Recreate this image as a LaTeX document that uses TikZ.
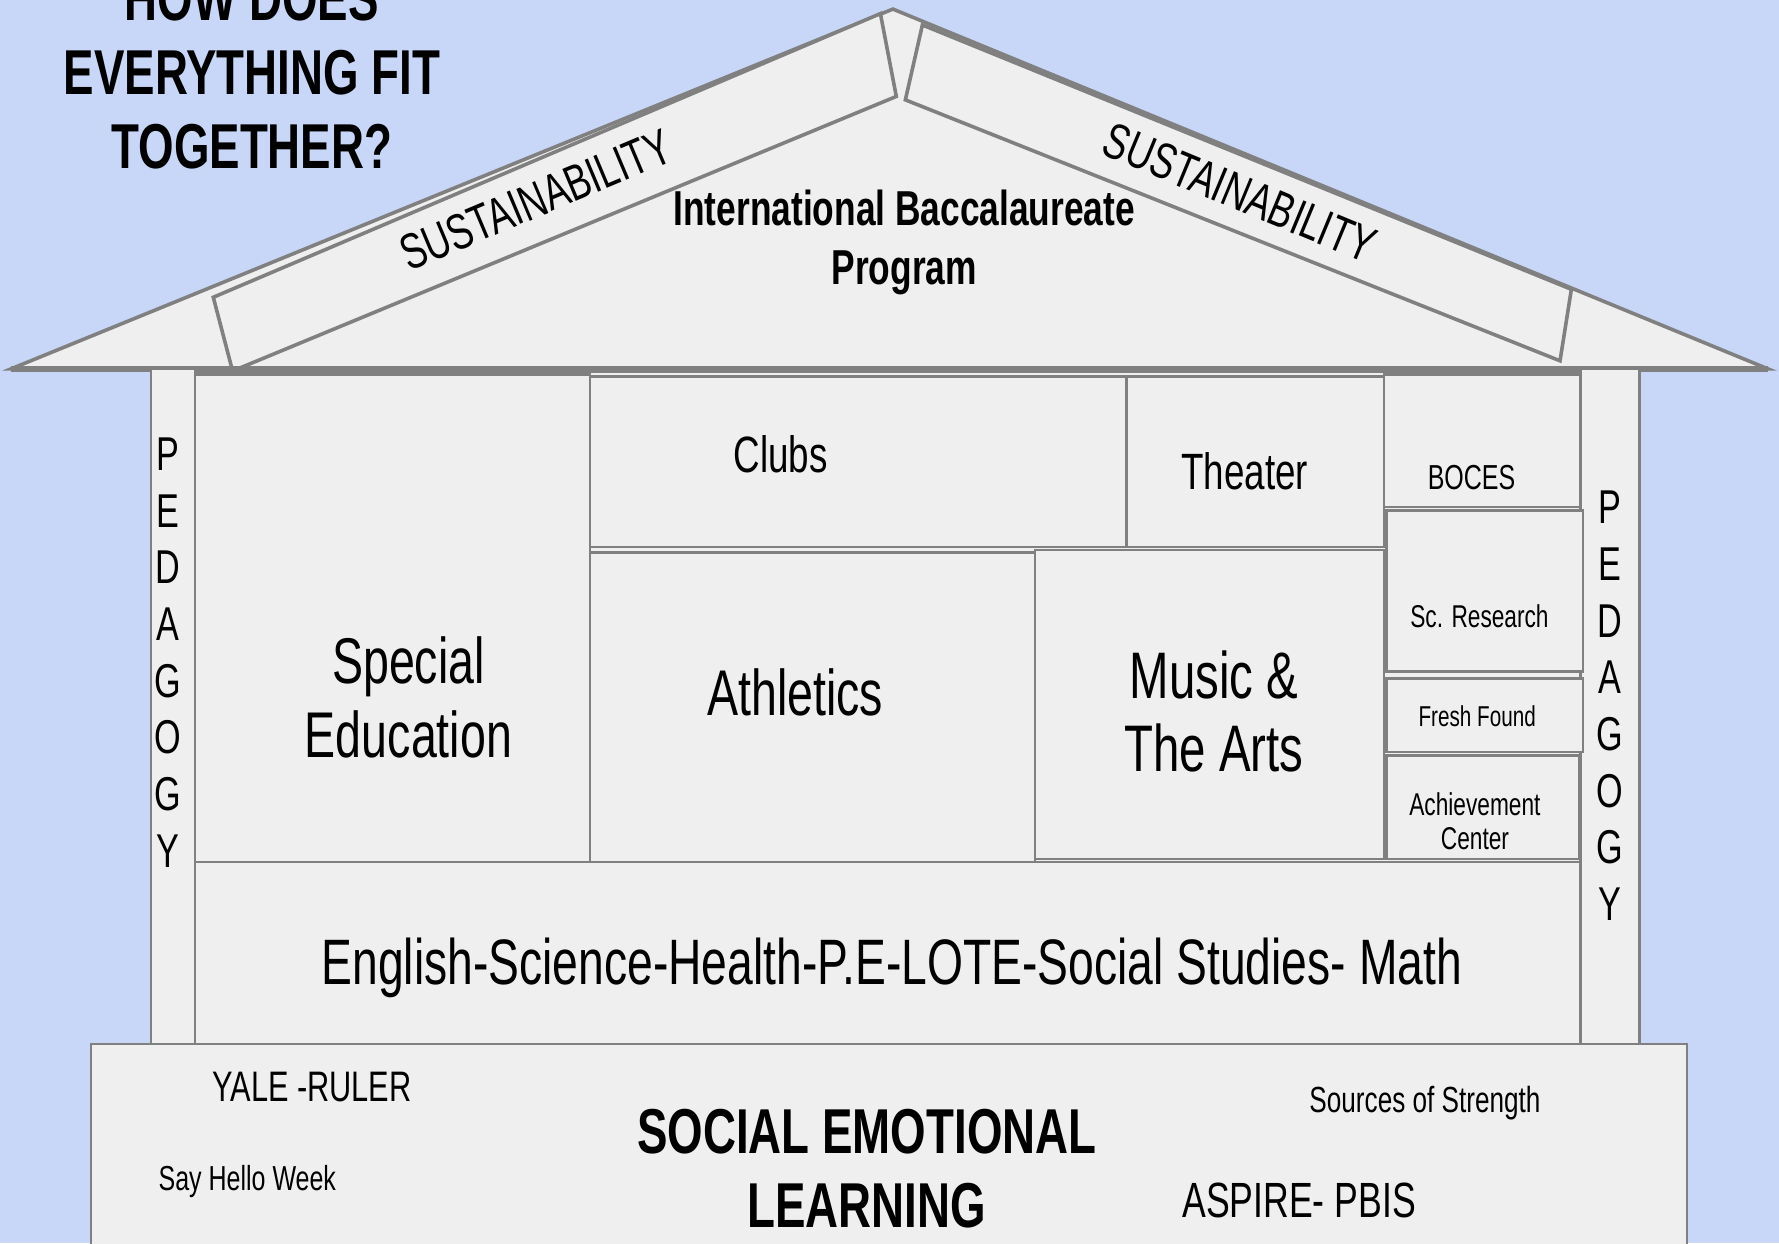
\documentclass[tikz,border=0pt]{standalone}
\usepackage{fontspec}
\setmainfont{Liberation Sans}[FakeStretch=0.72]
\definecolor{skyblue}{RGB}{200,215,247}
\definecolor{roomfill}{RGB}{239,239,239}
\definecolor{roomline}{RGB}{128,128,128}
\newcommand\housefont[2]{\fontsize{#1}{#2}\selectfont}
\newcommand\houseroom[4]{
  \draw[room] (#1,#2) rectangle (#3,#4) ;
}
\newcommand\houseword[4]{
  \node[roomtext, font=\housefont{#3}{#3}] (#1) at #2 {#4} ;
}
\tikzset{
  room/.style={draw=roomline, fill=roomfill, line width=0.6pt},
  roof/.style={room, line width=0.9pt},
  roomtext/.style={inner sep=0pt, align=center, text=black},
}
\begin{document}
\begin{tikzpicture}[x=0.01cm, y=-0.01cm]
    \fill[skyblue] (0,0) rectangle (1568,1096) ;
    \useasboundingbox (0,0) rectangle (1568,1096) ;
    \draw[roof] (10,325) -- (787,8) -- (1558,325) -- cycle ;
    \draw[roof] (188,262) -- (776,12) -- (790,85) -- (205,327) -- cycle ;
    \draw[roof] (813,22) -- (1385,255) -- (1375,318) -- (798,88) -- cycle ;
    \draw[roomline, line width=1.4pt] (10,325) -- (1558,325) ;
    \houseroom{133}{325}{172}{920}
    \houseroom{1393}{325}{1445}{920}
    \houseroom{172}{328}{1393}{920}
    \houseroom{172}{330}{520}{760}
    \houseroom{520}{332}{993}{482}
    \houseroom{993}{332}{1220}{482}
    \houseroom{1220}{330}{1393}{447}
    \houseroom{520}{487}{912}{760}
    \houseroom{912}{485}{1220}{757}
    \houseroom{1222}{450}{1395}{592}
    \houseroom{1222}{598}{1395}{663}
    \houseroom{1222}{666}{1392}{757}
    \houseroom{172}{760}{1393}{920}
    \houseroom{80}{920}{1487}{1110}
    \node[roomtext, font=\bfseries\housefont{15.9}{18.5}] (title) at (222,64)
      {HOW DOES\\EVERYTHING FIT\\TOGETHER?} ;
    \node[roomtext, font=\bfseries\housefont{12.3}{14.8}] (ib) at (797,214)
      {International Baccalaureate\\Program} ;
    \node[roomtext, font=\housefont{12.6}{12.6}, rotate=22.8] (sustainleft) at (472,176) {SUSTAINABILITY} ;
    \node[roomtext, font=\housefont{12.6}{12.6}, rotate=-22.5] (sustainright) at (1093,170) {SUSTAINABILITY} ;
    \node[roomtext, font=\housefont{11.9}{14.2}] (pedagogyleft) at (148,575)
      {P\\E\\D\\A\\G\\O\\G\\Y} ;
    \node[roomtext, font=\housefont{11.9}{14.2}] (pedagogyright) at (1419,622)
      {P\\E\\D\\A\\G\\O\\G\\Y} ;
    \node[roomtext, font=\housefont{16.2}{18.5}] (special) at (360,615) {Special\\Education} ;
    \houseword{athletics}{(701,610)}{16.2}{Athletics}
    \node[roomtext, font=\housefont{16.5}{18.5}] (music) at (1070,627) {Music \&\\The Arts} ;
    \houseword{clubs}{(688,400)}{12.8}{Clubs}
    \houseword{theater}{(1097,415)}{12.8}{Theater}
    \houseword{boces}{(1297,421)}{8.7}{BOCES}
    \houseword{research}{(1304,543)}{7.9}{Sc. Research}
    \houseword{fresh}{(1302,631)}{7.2}{Fresh Found}
    \node[roomtext, font=\housefont{7.9}{8.5}] (achievement) at (1300,724) {Achievement\\Center} ;
    \houseword{subjects}{(786,853)}{16.1}{English-Science-Health-P.E-LOTE-Social Studies- Math}
    \houseword{yale}{(275,958)}{10.7}{YALE -RULER}
    \houseword{hello}{(218,1041)}{8.7}{Say Hello Week}
    \node[roomtext, font=\bfseries\housefont{15.9}{18.5}] (sel) at (764,1030)
      {SOCIAL EMOTIONAL\\LEARNING} ;
    \houseword{sources}{(1256,972)}{9.1}{Sources of Strength}
    \houseword{aspire}{(1145,1058)}{12.4}{ASPIRE- PBIS}
  \end{tikzpicture}
\end{document}
